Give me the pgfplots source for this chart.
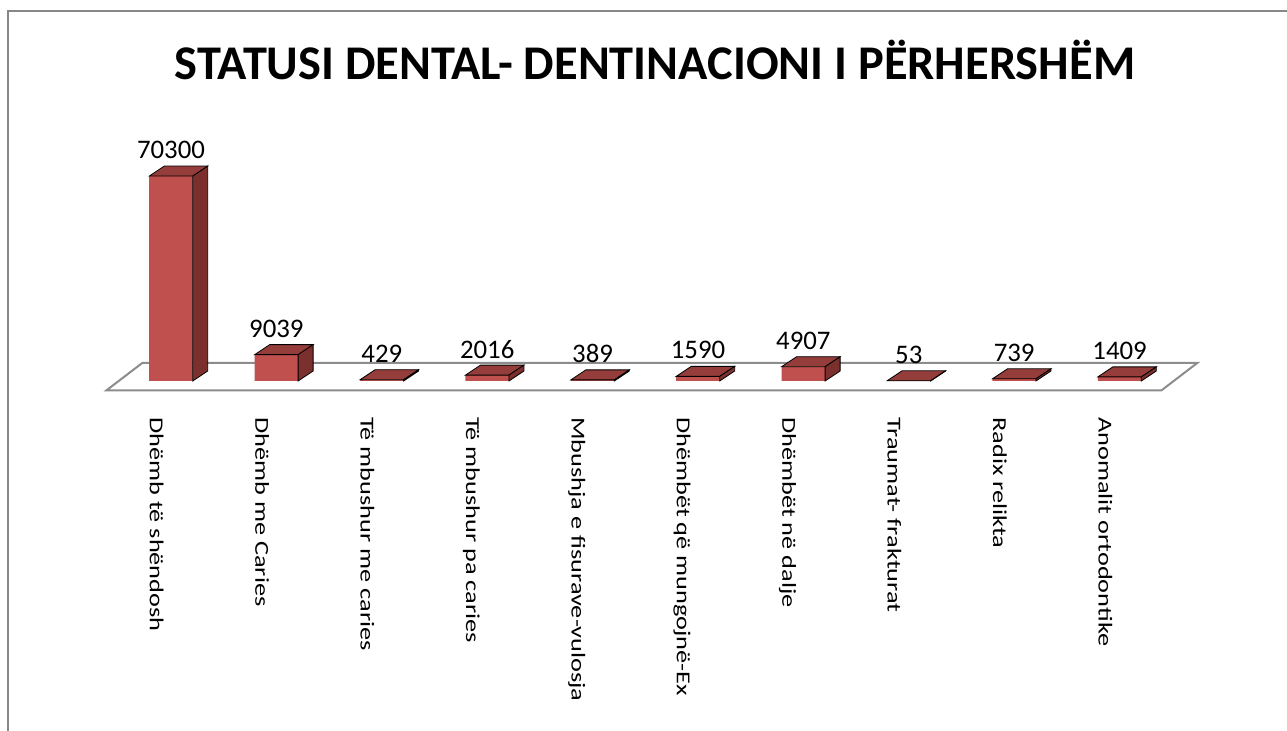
\documentclass[border=0pt]{standalone}
\usepackage{pgfplots}
\pgfplotsset{compat=1.18}
\usepackage{pgfplotstable}
\usepackage{graphicx}
\usepackage{fontspec}
\setmainfont{Carlito}
\definecolor{barfront}{HTML}{C0504D}
\definecolor{bartop}{HTML}{953D3A}
\definecolor{barside}{HTML}{7B302E}
\definecolor{floorgray}{HTML}{8C8C8C}
\definecolor{framegray}{HTML}{878787}
\newcommand{\tl}[1]{\scalebox{1}[0.75]{#1}}
\pgfplotstableread{
idx val
0 70300
1 9039
2 429
3 2016
4 389
5 1590
6 4907
7 53
8 739
9 1409
}\datatable
\begin{document}
\begin{tikzpicture}
\useasboundingbox (-59.15pt,-175pt) rectangle (584.35pt,190.5pt);
\draw[framegray, line width=1.2pt] (-55.15pt,-200pt) -- (-55.15pt,185pt) -- (600pt,185pt);
\node[anchor=base, inner sep=0pt, font=\fontsize{24.2}{28}\selectfont\bfseries] at (268.35pt,150.5pt) {STATUSI DENTAL- DENTINACIONI I PËRHERSHËM};
\begin{axis}[
  at={(0pt,0pt)}, anchor=south west,
  scale only axis, width=527pt, height=109.3125pt,
  xmin=-0.5, xmax=9.5, ymin=0, ymax=75000,
  clip=false,
  axis line style={draw=none},
  tick style={draw=none},
  major tick length=0pt,
  ytick=\empty,
  xtick={-0.2,0.8,1.8,2.8,3.8,4.8,5.8,6.8,7.8,8.8},
  xticklabels={\tl{Dhëmb të shëndosh},\tl{Dhëmb me Caries},\tl{Të mbushur me caries},\tl{Të mbushur pa caries},\tl{Mbushja e fisurave-vulosja},\tl{Dhëmbët që mungojnë-Ex},\tl{Dhëmbët në dalje},\tl{Traumat- frakturat},\tl{Radix relikta},\tl{Anomalit ortodontike}},
  xticklabel shift=18pt,
  xticklabel style={inner sep=0pt, rotate=-90, anchor=base west, font=\fontsize{13.15}{15}\selectfont},
  /pgf/number format/1000 sep={},
  /pgf/number format/assume math mode=true,
]
\addplot[floorgray, line width=1pt, mark=none] coordinates {(-0.612,-3200) (9.398,-3200) (9.739,6250) (-0.270,6250)} -- cycle;
\addplot[ybar, bar width=21.75pt, fill=barfront, draw=none,
  nodes near coords,
  every node near coord/.append style={anchor=center, yshift=13pt, inner sep=0pt, text=black, font=\fontsize{13.4}{15}\selectfont}
] table[x=idx,y=val]{\datatable};
\addplot[scatter, only marks, mark=*, mark size=0pt, mark options={draw=none,fill=none},
  visualization depends on={rawy \as \rawyv},
  scatter/@pre marker code/.code={%
    \edef\hh{\the\dimexpr\rawyv sp*955187/10000\relax}%
    \fill[fill=bartop] (-10.875pt,0pt) -- (10.875pt,0pt) -- (18.375pt,5pt) -- (-3.375pt,5pt) -- cycle;
    \fill[fill=barside] (10.875pt,0pt) -- (18.375pt,5pt) -- (18.375pt,5pt-\hh) -- (10.875pt,-\hh) -- cycle;
  },
  scatter/@post marker code/.code={}
] table[x=idx,y=val]{\datatable};
\end{axis}
\end{tikzpicture}
\end{document}
